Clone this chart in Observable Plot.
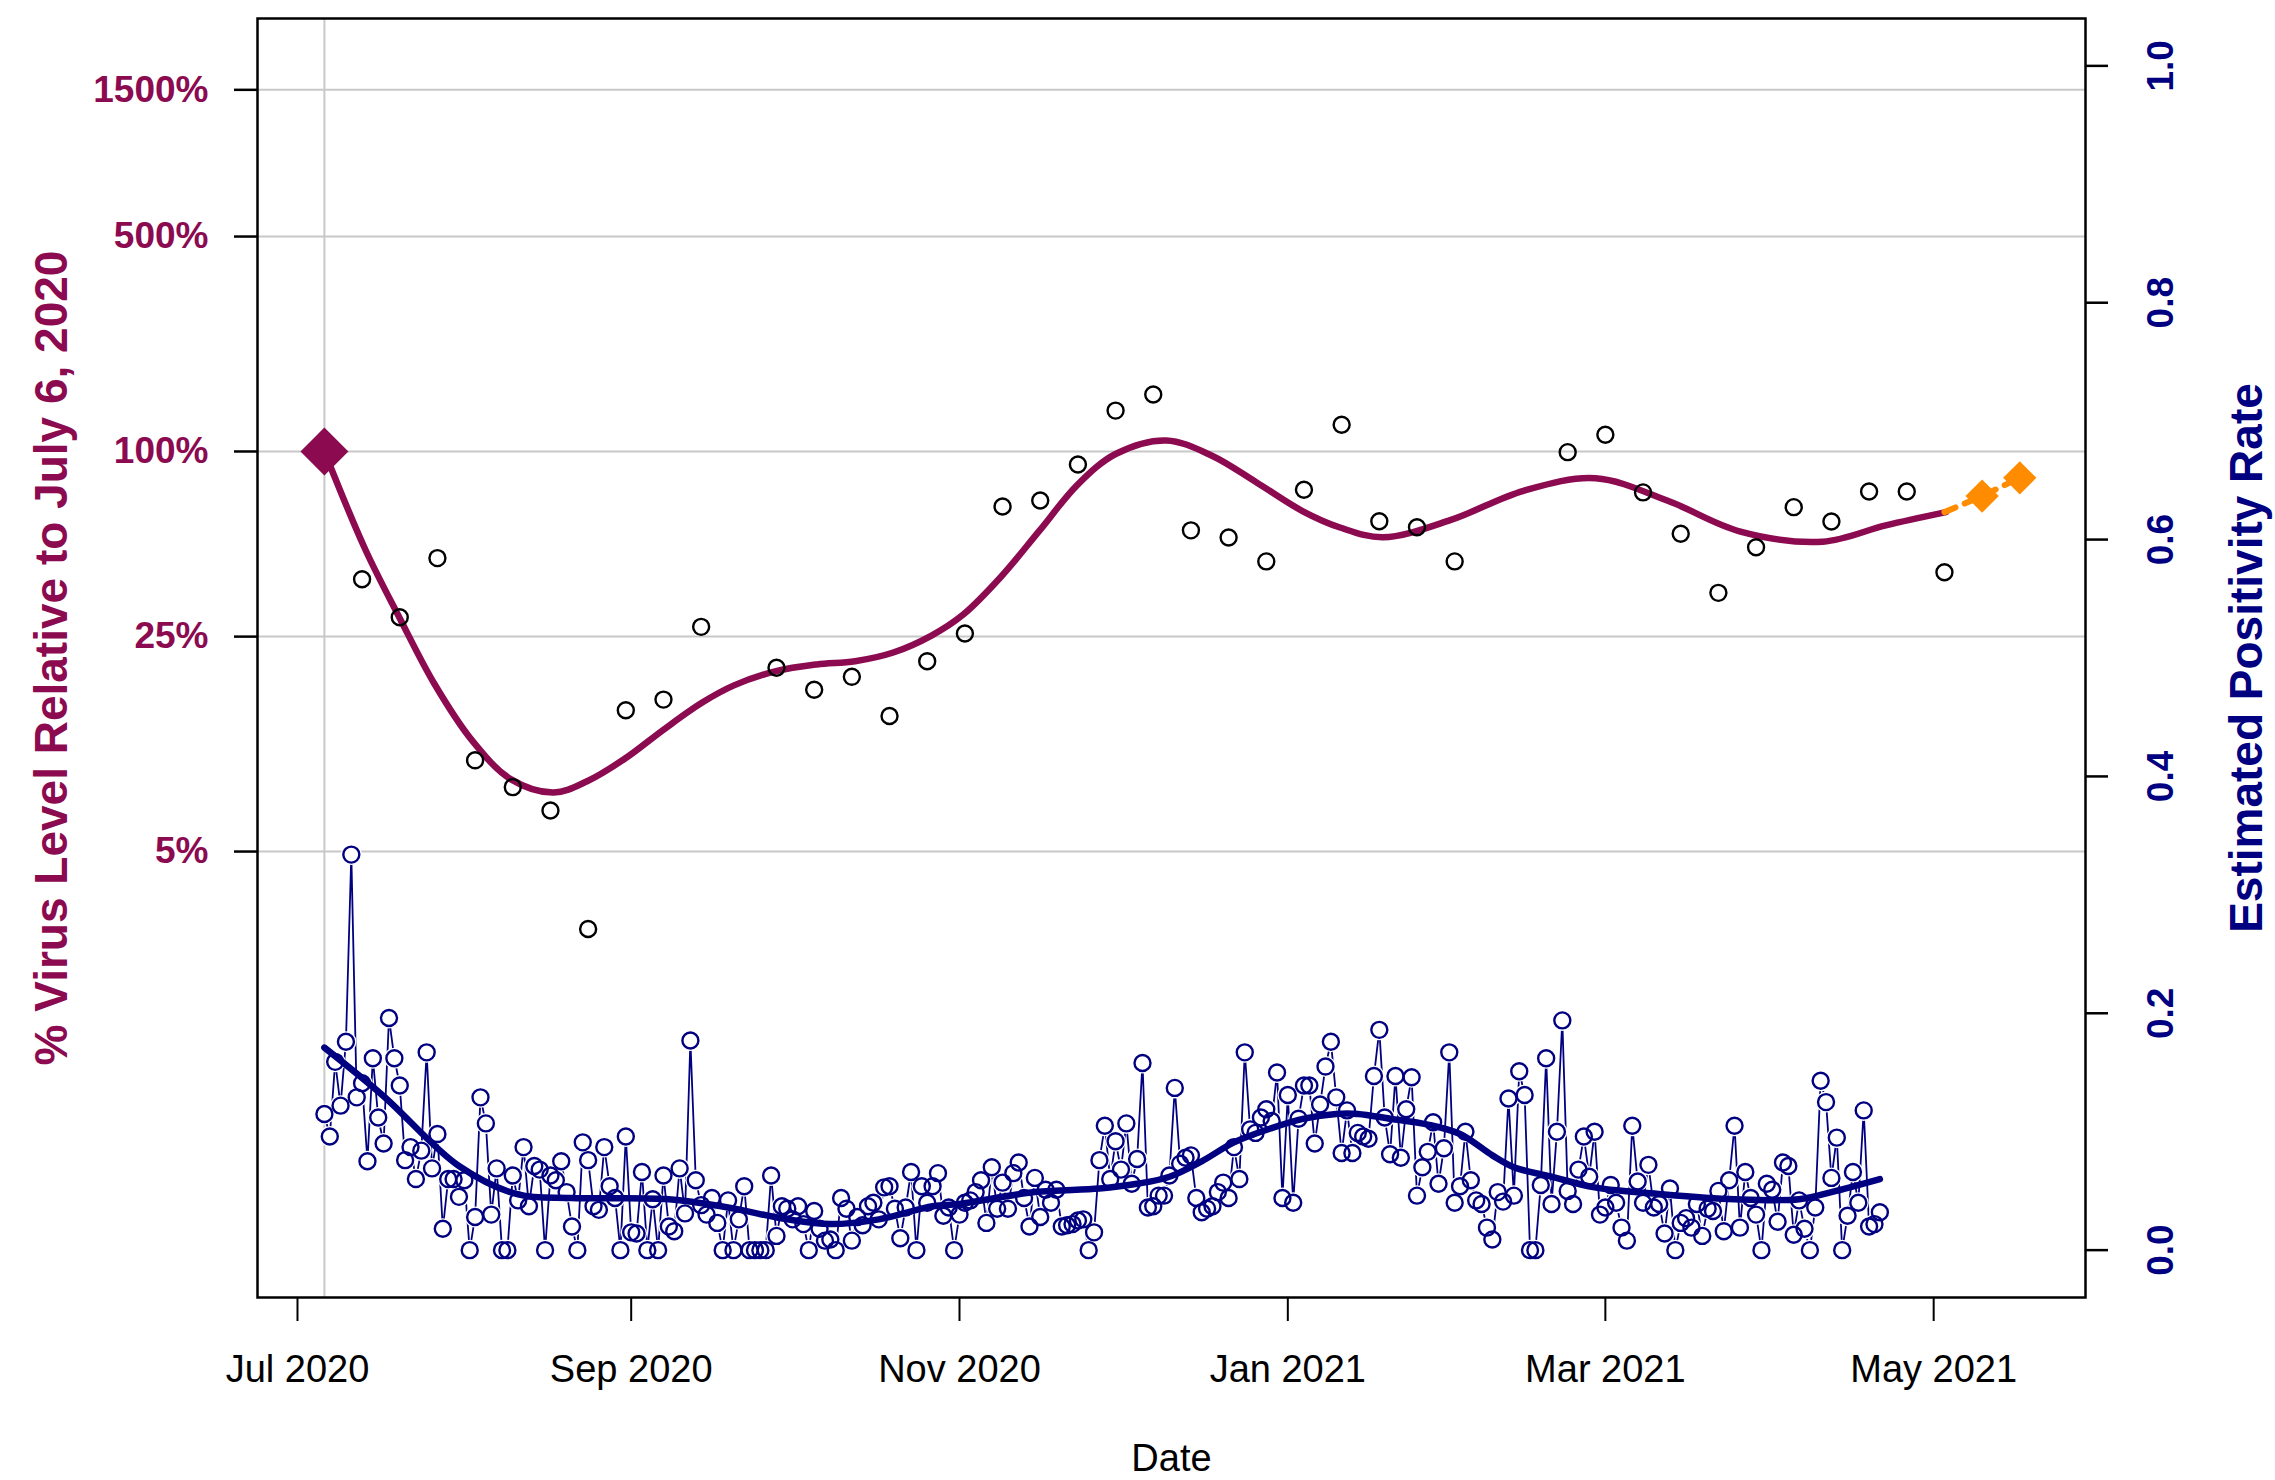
<!DOCTYPE html>
<html><head><meta charset="utf-8">
<script src="https://cdn.jsdelivr.net/npm/d3@7"></script>
<script src="https://cdn.jsdelivr.net/npm/@observablehq/plot@0.6"></script>
<style>
html,body{margin:0;padding:0;background:#fff;overflow:hidden;}
#wrap{position:relative;width:2275px;height:1480px;}
#wrap svg{position:absolute;left:0;top:0;max-width:none;}
</style></head><body><div id="wrap"></div>
<script>
// ---------- data ----------
// weekly virus level samples, % relative to July 6, 2020
const virusDates = ["2020-07-13","2020-07-20","2020-07-27","2020-08-03","2020-08-10","2020-08-17","2020-08-24","2020-08-31","2020-09-07","2020-09-14","2020-09-28","2020-10-05","2020-10-12","2020-10-19","2020-10-26","2020-11-02","2020-11-09","2020-11-16","2020-11-23","2020-11-30","2020-12-07","2020-12-14","2020-12-21","2020-12-28","2021-01-04","2021-01-11","2021-01-18","2021-01-25","2021-02-01","2021-02-22","2021-03-01","2021-03-08","2021-03-15","2021-03-22","2021-03-29","2021-04-05","2021-04-12","2021-04-19","2021-04-26","2021-05-03"];
const virusPct = [38.4,28.9,45.0,9.9,8.1,6.8,2.8,14.4,15.6,26.9,19.8,16.8,18.5,13.8,20.8,25.6,66.2,69.3,90.7,135.8,153.2,55.4,52.5,43.9,75.1,122.1,59.3,56.7,43.9,99.5,113.3,73.6,54.0,34.7,48.8,65.9,59.2,74.1,74.1,40.5];

// smoothed virus level trend: days after 2020-07-01, %
const trendDay = [5,12.6,19.0,25.4,32.5,39.6,47.6,53.9,61.0,68.1,75.2,81.1,88.9,96.5,103.6,110.7,117.8,123.7,130.8,137.9,145.0,152.1,161.4,169.9,178.2,186.8,193.7,201.7,214.3,227.8,241.2,254.7,268.1,283.4,295.1,306.3];
const trendPct = [100,48.0,28.7,17.6,11.45,8.60,7.78,8.48,10.07,12.49,15.26,17.35,19.30,20.3,20.8,22.2,25.2,29.5,39.3,55.4,78.2,98.3,108.6,96.9,79.3,63.9,56.6,52.6,59.9,74.5,81.8,69.0,54.9,50.9,57.5,63.5];

// reference point and forecast
const refDate = "2020-07-06";
const refPct = 100;
const forecastDates = ["2021-05-03","2021-05-10","2021-05-17"];
const forecastPct = [63.5,71.6,82.1];

// daily estimated positivity rate, starting 2020-07-06
const posStart = "2020-07-06";
const posJulOct = [0.115,0.096,0.159,0.122,0.176,0.334,0.129,0.141,0.075,0.162,
0.112,0.090,0.196,0.162,0.139,0.076,0.087,0.060,0.084,0.167,
0.069,0.098,0.018,0.060,0.060,0.045,0.059,0,0.028,0.129,
0.107,0.030,0.069,0,0,0.063,0.042,0.087,0.037,0.071,
0.068,0,0.063,0.059,0.075,0.049,0.020,0,0.091,0.076,
0.037,0.034,0.087,0.054,0.044,0,0.096,0.015,0.014,0.066,
0,0.043,0,0.063,0.020,0.016,0.069,0.031,0.177,0.059,
0.038,0.030,0.044,0.023,0,0.042,0,0.026,0.054,0,
0,0,0,0.063,0.012,0.037,0.035,0.026,0.037,0.022,
0,0.033,0.018,0.008];
const posOctJan = [0.009,0,0.044,0.035,0.008,0.028,0.021,0.037,0.040,0.026,
0.053,0.054,0.035,0.010,0.036,0.066,0,0.054,0.040,0.054,
0.065,0.029,0.036,0,0.030,0.040,0.042,0.049,0.059,0.023,
0.070,0.035,0.057,0.035,0.065,0.074,0.044,0.020,0.061,0.028,
0.051,0.040,0.051,0.020,0.021,0.022,0.025,0.026,0,0.015,
0.076,0.105,0.060,0.092,0.068,0.107,0.056,0.077,0.158,0.036,
0.037,0.046,0.046,0.063,0.137,0.073,0.078,0.080,0.044,0.032,
0.035,0.037,0.049,0.057,0.044,0.087,0.060,0.167,0.102,0.099,
0.112,0.119,0.109,0.150,0.044,0.131,0.040,0.111,0.139,0.139,
0.090,0.123,0.155,0.176,0.129,0.082,0.118,0.082,0.099];
const posJanApr = [0.096,0.094,0.147,0.186,0.112,0.081,0.147,0.078,0.119,
0.146,0.046,0.070,0.083,0.108,0.056,0.086,0.167,0.040,0.054,
0.100,0.059,0.042,0.039,0.019,0.009,0.049,0.041,0.128,0.046,
0.151,0.131,0,0,0.055,0.162,0.039,0.100,0.194,0.050,
0.039,0.068,0.096,0.062,0.100,0.030,0.036,0.055,0.040,0.019,
0.008,0.105,0.058,0.040,0.072,0.036,0.039,0.014,0.052,0,
0.023,0.027,0.019,0.039,0.012,0.035,0.033,0.050,0.016,0.059,
0.105,0.019,0.066,0.044,0.030,0,0.056,0.051,0.024,0.074,
0.071,0.013,0.042,0.018,0,0.036,0.143,0.125,0.061,0.095,
0,0.029,0.066,0.040,0.118,0.020,0.022,0.032];

// smoothed positivity trend: days after 2020-07-06
const posTrendDay = [0,11,25,36,46,64,75,86,94,103,113,118,132,144,151,157,163,169,176,182,188,192,198,205,211,217,221,228,236,249,262,274,280,289];
const posTrendVal = [0.171,0.130,0.071,0.047,0.044,0.043,0.036,0.026,0.022,0.026,0.037,0.039,0.049,0.052,0.056,0.062,0.075,0.091,0.103,0.111,0.115,0.115,0.111,0.106,0.098,0.080,0.070,0.062,0.053,0.047,0.043,0.043,0.049,0.060];

// axes
const xTicks = ["2020-07-01","2020-09-01","2020-11-01","2021-01-01","2021-03-01","2021-05-01"];
const leftTicks = [5,25,100,500,1500];
const rightTicks = [0,0.2,0.4,0.6,0.8,1.0];
const leftTitle = "% Virus Level Relative to July 6, 2020";
const rightTitle = "Estimated Positivity Rate";
const xTitle = "Date";

// ---------- build ----------
const DAY = 864e5;
const W = 2275, H = 1480;
const M = {marginLeft: 257, marginRight: 190, marginTop: 18, marginBottom: 183};
const MAROON = "#8B0A50", NAVY = "#000080", ORANGE = "#FF8C00", GRID = "#c8c8c8";
const FONT = "'Liberation Sans', Arial, Helvetica, sans-serif";
const xDomain = [new Date("2020-06-23T13:40:00Z"), new Date("2021-05-29T05:00:00Z")];

const virus = virusDates.map((d, i) => ({date: new Date(d), v: virusPct[i]}));
const jul1 = Date.UTC(2020, 6, 1);
const trend = trendDay.map((d, i) => ({date: new Date(jul1 + d * DAY), v: trendPct[i]}));
const ref = [{date: new Date(refDate), v: refPct}];
const forecast = forecastDates.map((d, i) => ({date: new Date(d), v: forecastPct[i]}));
const p0 = new Date(posStart).getTime();
const posDaily = [...posJulOct, ...posOctJan, ...posJanApr].map((v, i) => ({date: new Date(p0 + i * DAY), v}));
const posTrend = posTrendDay.map((d, i) => ({date: new Date(p0 + d * DAY), v: posTrendVal[i]}));

const plot1 = Plot.plot({
  width: W, height: H, ...M,
  style: {fontFamily: FONT, background: "white", overflow: "visible"},
  x: {type: "utc", domain: xDomain},
  y: {type: "log", domain: [0.1773, 2559]},
  marks: [
    Plot.gridY(leftTicks, {stroke: GRID, strokeOpacity: 1, strokeWidth: 2}),
    Plot.ruleX(ref, {x: "date", stroke: GRID, strokeWidth: 2}),
    Plot.axisX({ticks: xTicks.map(d => new Date(d)), tickFormat: d3.utcFormat("%b %Y"), tickSize: 24, tickPadding: 34,
      fontSize: 38, fill: "black", stroke: "black", strokeWidth: 2, label: null}),
    Plot.axisY({ticks: leftTicks, tickSize: 23, fill: "none", stroke: "black", strokeWidth: 2.5, label: null}),
    Plot.text(leftTicks, {y: d => d, text: d => d + "%", frameAnchor: "left", dx: -49, textAnchor: "end", lineAnchor: "middle",
      fill: MAROON, fontSize: 37, fontWeight: "bold"}),
    Plot.text([leftTitle], {text: d => d, frameAnchor: "left", dx: -191, rotate: -90, textAnchor: "middle", lineAnchor: "bottom",
      fill: MAROON, fontSize: 46, fontWeight: "bold"}),
    Plot.text([xTitle], {text: d => d, frameAnchor: "bottom", dy: 161, textAnchor: "middle", lineAnchor: "middle", fill: "black", fontSize: 38}),
    Plot.line(trend, {x: "date", y: "v", stroke: MAROON, strokeWidth: 6.5, curve: "catmull-rom"}),
    Plot.line(forecast, {x: "date", y: "v", stroke: ORANGE, strokeWidth: 6, strokeDasharray: "12,10"}),
    Plot.dot(virus, {x: "date", y: "v", r: 8, stroke: "black", strokeWidth: 2.4, fill: "none"}),
    Plot.dot(ref, {x: "date", y: "v", symbol: "diamond2", r: 21.6, fill: MAROON, stroke: "none"}),
    Plot.dot(forecast.slice(1), {x: "date", y: "v", symbol: "diamond2", r: 15, fill: ORANGE, stroke: "none"}),
    Plot.frame({stroke: "black", strokeWidth: 2.5})
  ]
});

const plot2 = Plot.plot({
  width: W, height: H, ...M,
  style: {fontFamily: FONT, background: "transparent", overflow: "visible"},
  x: {type: "utc", domain: xDomain, axis: null},
  y: {domain: [-0.04, 1.04]},
  marks: [
    Plot.line(posDaily, {x: "date", y: "v", stroke: NAVY, strokeWidth: 1.8}),
    Plot.dot(posDaily, {x: "date", y: "v", r: 10.5, fill: "white", stroke: "none"}),
    Plot.dot(posDaily, {x: "date", y: "v", r: 8, stroke: NAVY, strokeWidth: 2.4, fill: "none"}),
    Plot.line(posTrend, {x: "date", y: "v", stroke: NAVY, strokeWidth: 6.5, curve: "catmull-rom"}),
    Plot.axisY({anchor: "right", ticks: rightTicks, tickSize: 22, fill: "none", stroke: "black", strokeWidth: 2.5, label: null}),
    Plot.text(rightTicks, {y: d => d, text: d => d.toFixed(1), frameAnchor: "right", dx: 87, rotate: -90,
      textAnchor: "middle", lineAnchor: "bottom", fill: NAVY, fontSize: 37, fontWeight: "bold"}),
    Plot.text([rightTitle], {text: d => d, frameAnchor: "right", dx: 176, rotate: -90, textAnchor: "middle", lineAnchor: "bottom",
      fill: NAVY, fontSize: 46, fontWeight: "bold"})
  ]
});

const wrap = document.getElementById("wrap");
wrap.appendChild(plot1);
wrap.appendChild(plot2);
</script>
</body></html>
